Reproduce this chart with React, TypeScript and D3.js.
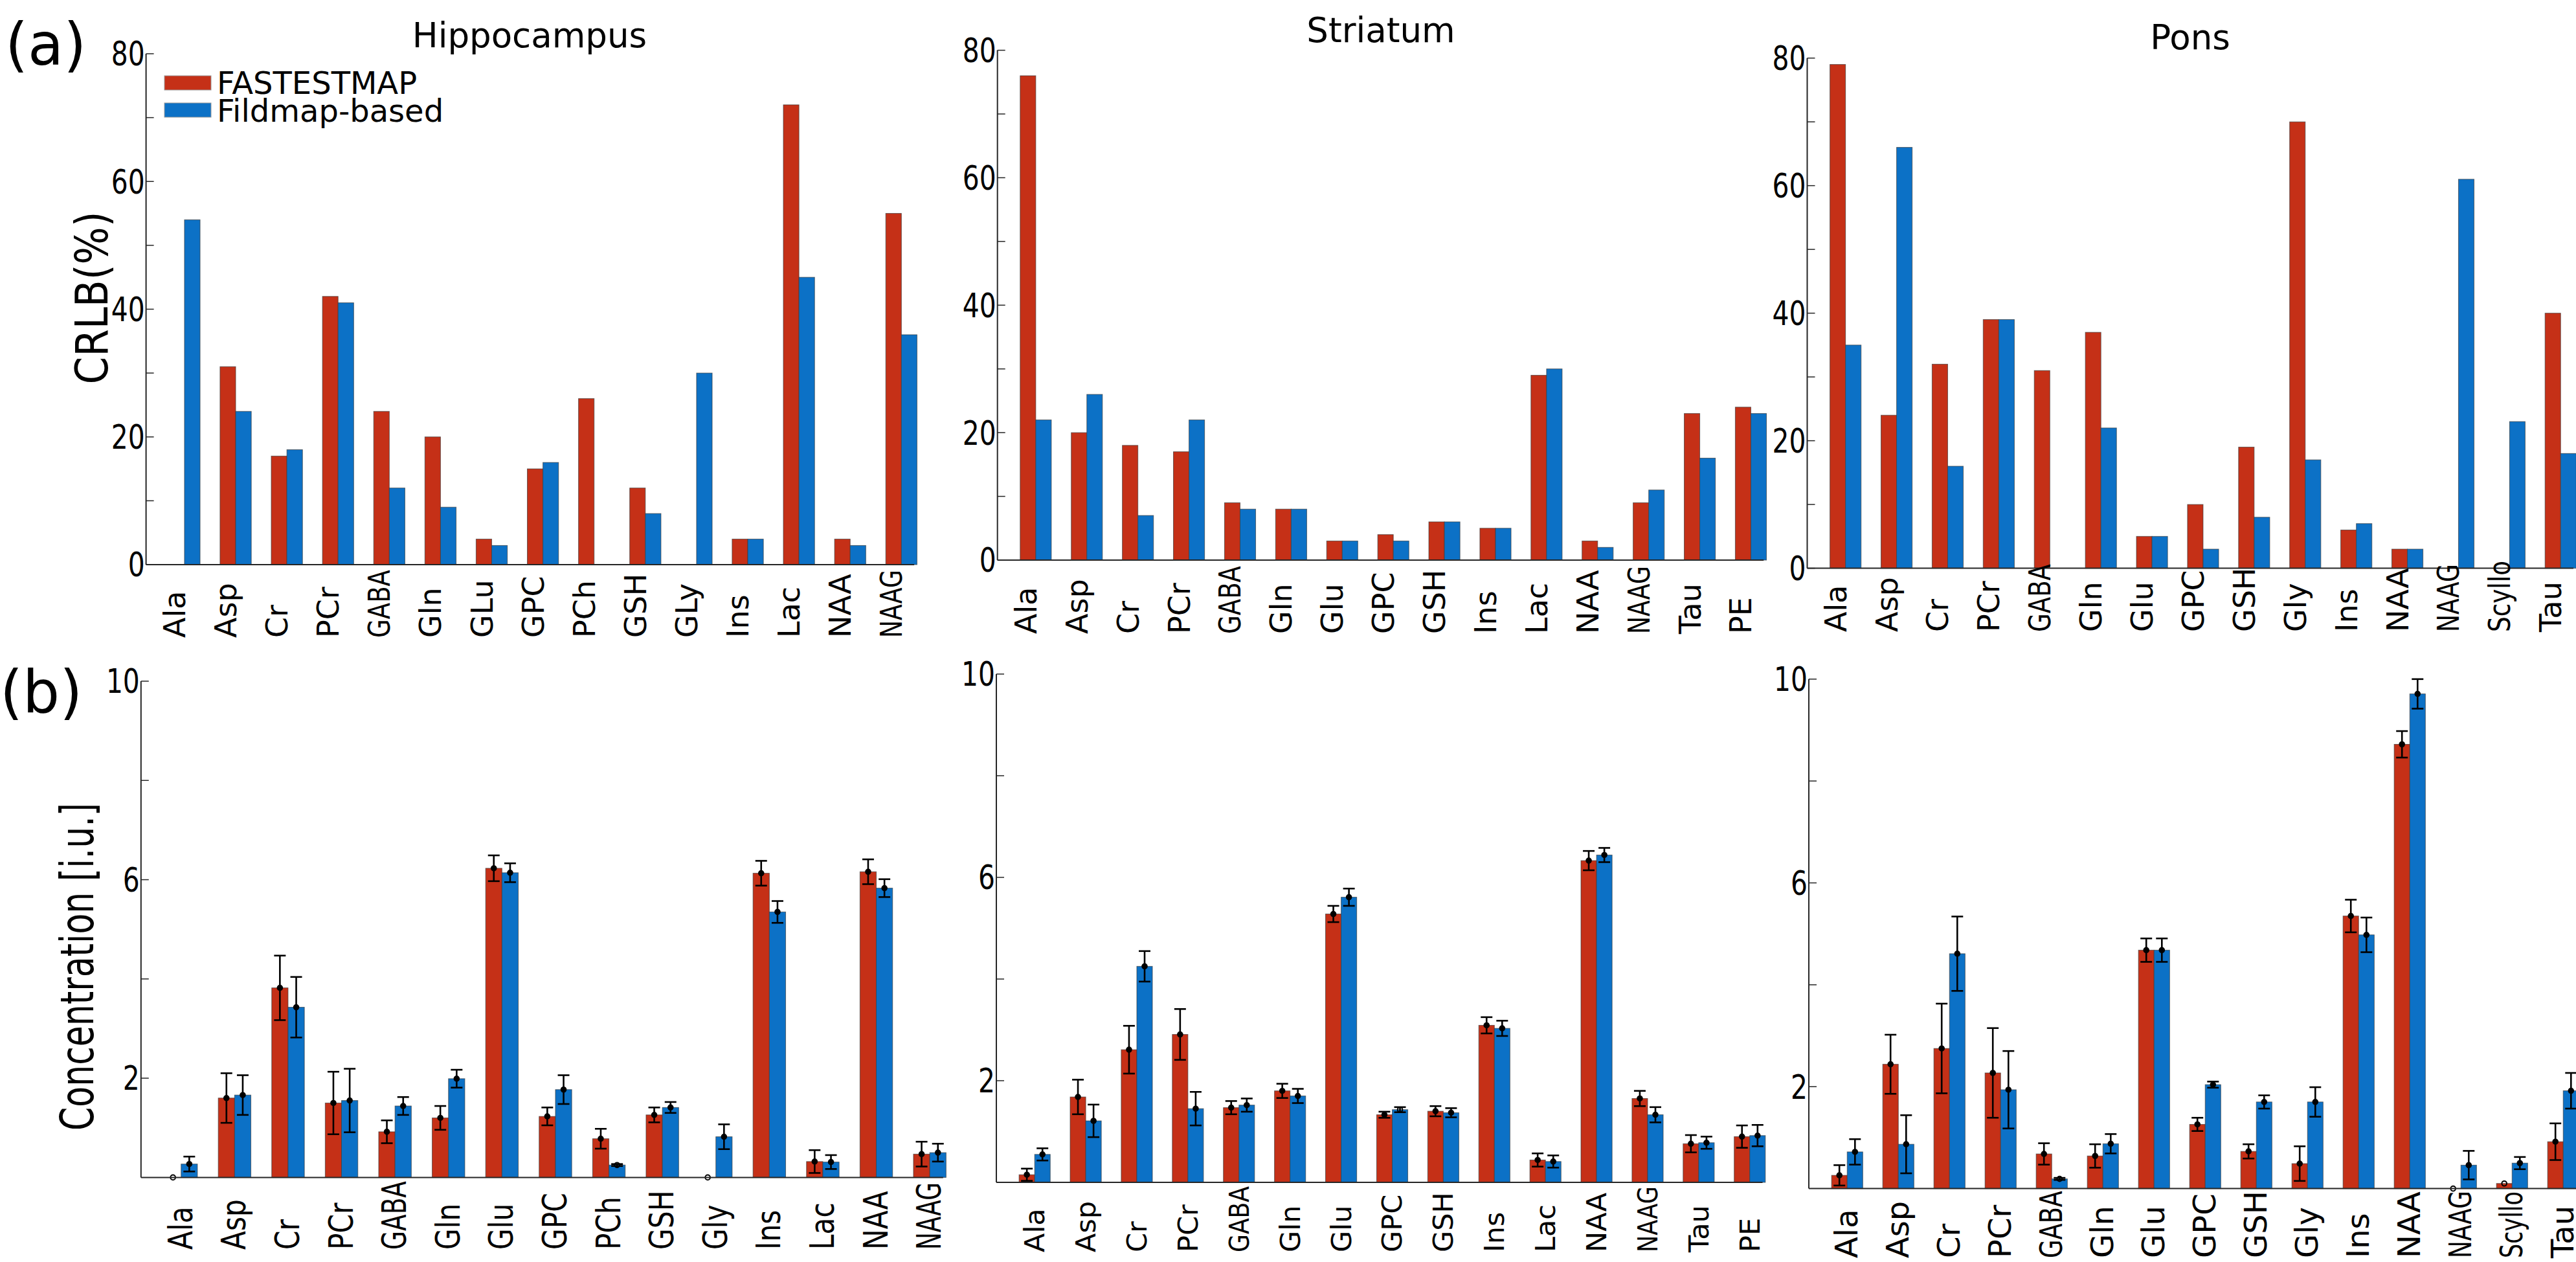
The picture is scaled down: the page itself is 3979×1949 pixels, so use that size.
import * as d3 from 'd3'

const RED = '#C53017'
const BLUE = '#0C71C6'
const FONT = 'DejaVu Sans, Liberation Sans, sans-serif'

// (a) CRLB (%) per region
const hippoTopNames = ['Ala', 'Asp', 'Cr', 'PCr', 'GABA', 'Gln', 'GLu', 'GPC', 'PCh', 'GSH', 'GLy', 'Ins', 'Lac', 'NAA', 'NAAG']
const hippoCrlbFast = [0, 31, 17, 42, 24, 20, 4, 15, 26, 12, 0, 4, 72, 4, 55]
const hippoCrlbField = [54, 24, 18, 41, 12, 9, 3, 16, 0, 8, 30, 4, 45, 3, 36]

const striatumNames = ['Ala', 'Asp', 'Cr', 'PCr', 'GABA', 'Gln', 'Glu', 'GPC', 'GSH', 'Ins', 'Lac', 'NAA', 'NAAG', 'Tau', 'PE']
const striatumCrlbFast = [76, 20, 18, 17, 9, 8, 3, 4, 6, 5, 29, 3, 9, 23, 24]
const striatumCrlbField = [22, 26, 7, 22, 8, 8, 3, 3, 6, 5, 30, 2, 11, 16, 23]

const ponsNames = ['Ala', 'Asp', 'Cr', 'PCr', 'GABA', 'Gln', 'Glu', 'GPC', 'GSH', 'Gly', 'Ins', 'NAA', 'NAAG', 'Scyllo', 'Tau']
const ponsCrlbFast = [79, 24, 32, 39, 31, 37, 5, 10, 19, 70, 6, 3, 0, 0, 40]
const ponsCrlbField = [35, 66, 16, 39, 0, 22, 5, 3, 8, 17, 7, 3, 61, 23, 18]

// (b) concentration [i.u.], mean and sd
const hippoBottomNames = ['Ala', 'Asp', 'Cr', 'PCr', 'GABA', 'Gln', 'Glu', 'GPC', 'PCh', 'GSH', 'Gly', 'Ins', 'Lac', 'NAA', 'NAAG']
const hippoConcFast = [0, 1.6, 3.82, 1.5, 0.92, 1.2, 6.23, 1.23, 0.78, 1.26, 0, 6.13, 0.32, 6.16, 0.47]
const hippoSdFast = [0, 0.5, 0.65, 0.63, 0.23, 0.24, 0.26, 0.18, 0.2, 0.15, 0, 0.25, 0.23, 0.25, 0.25]
const hippoConcField = [0.27, 1.66, 3.43, 1.55, 1.44, 1.99, 6.14, 1.77, 0.25, 1.41, 0.82, 5.35, 0.31, 5.83, 0.5]
const hippoSdField = [0.15, 0.4, 0.61, 0.64, 0.18, 0.18, 0.19, 0.29, 0.02, 0.11, 0.25, 0.22, 0.14, 0.18, 0.18]

const striatumConcFast = [0.15, 1.68, 2.61, 2.91, 1.47, 1.8, 5.28, 1.33, 1.4, 3.09, 0.44, 6.33, 1.65, 0.76, 0.9]
const striatumSdFast = [0.12, 0.34, 0.47, 0.5, 0.13, 0.14, 0.16, 0.06, 0.1, 0.16, 0.13, 0.19, 0.15, 0.17, 0.22]
const striatumConcField = [0.55, 1.21, 4.25, 1.45, 1.52, 1.7, 5.61, 1.43, 1.37, 3.03, 0.41, 6.44, 1.33, 0.78, 0.92]
const striatumSdField = [0.12, 0.32, 0.3, 0.33, 0.13, 0.14, 0.17, 0.05, 0.09, 0.15, 0.12, 0.14, 0.15, 0.12, 0.21]

const ponsConcFast = [0.26, 2.44, 2.75, 2.27, 0.68, 0.64, 4.68, 1.26, 0.73, 0.49, 5.35, 8.72, 0, 0.1, 0.92]
const ponsSdFast = [0.2, 0.58, 0.88, 0.88, 0.21, 0.23, 0.23, 0.13, 0.14, 0.34, 0.32, 0.26, 0, 0, 0.36]
const ponsConcField = [0.72, 0.87, 4.61, 1.94, 0.19, 0.88, 4.68, 2.04, 1.7, 1.7, 4.98, 9.71, 0.46, 0.5, 1.92]
const ponsSdField = [0.25, 0.57, 0.73, 0.76, 0.02, 0.19, 0.23, 0.06, 0.13, 0.29, 0.34, 0.29, 0.28, 0.12, 0.35]

const crlbTicks = [0, 10, 20, 30, 40, 50, 60, 70, 80]
const crlbLabels = [0, 20, 40, 60, 80]
const concTicks = [2, 4, 6, 8, 10]
const concLabels = [2, 6, 10]

const regionTitles = ['Hippocampus', 'Striatum', 'Pons']
const seriesNames = ['FASTESTMAP', 'Fildmap-based']

interface PanelProps {
  names: string[]
  red: number[]
  blue: number[]
  redSd?: number[]
  blueSd?: number[]
  x0: number
  step: number
  y0: number
  yTop: number
  yMax: number
  ticks: number[]
  tickLabels: number[]
  labelBase: number
  labelShift: number
  labelSize: number
  labelStretch?: number
  squeezed: Record<string, number>
}

function Panel(p: PanelProps) {
  const x = d3.scaleLinear().domain([0.25, 15.25]).range([p.x0, p.x0 + 15 * p.step])
  const y = d3.scaleLinear().domain([0, p.yMax]).range([p.y0, p.yTop])
  const bw = 0.305 * p.step
  const stretch = p.labelStretch || 1

  const bars = p.names.flatMap((name, i) => {
    const c = x(i + 1)
    return [
      { key: name + 'r', x: c - bw, v: p.red[i], sd: p.redSd?.[i], fill: RED },
      { key: name + 'b', x: c, v: p.blue[i], sd: p.blueSd?.[i], fill: BLUE },
    ]
  })

  return (
    <g>
      {bars.map(b =>
        b.v > 0 ? (
          <rect key={b.key} x={b.x} y={y(b.v)} width={bw} height={y(0) - y(b.v)}
            fill={b.fill} stroke="#3a3a3a" strokeOpacity={0.7} strokeWidth={1} />
        ) : null
      )}
      {p.redSd && bars.map(b => {
        const cx = b.x + bw / 2
        const sd = b.sd || 0
        return (
          <g key={b.key + 'e'} stroke="#000" strokeWidth={2.6} fill="none">
            {sd > 0 && (
              <>
                <line x1={cx} x2={cx} y1={y(b.v - sd)} y2={y(b.v + sd)} />
                <line x1={cx - 9} x2={cx + 9} y1={y(b.v + sd)} y2={y(b.v + sd)} />
                <line x1={cx - 9} x2={cx + 9} y1={y(b.v - sd)} y2={y(b.v - sd)} />
              </>
            )}
            <circle cx={cx} cy={y(b.v)} r={3.8} strokeWidth={2} fill={sd > 0.05 ? '#000' : 'none'} />
          </g>
        )
      })}
      {/* axes */}
      <line x1={p.x0} x2={p.x0 + 15 * p.step} y1={p.y0} y2={p.y0} stroke="#262626" strokeWidth={2} />
      <line x1={p.x0} x2={p.x0} y1={p.y0} y2={p.yTop} stroke="#262626" strokeWidth={2} />
      {p.ticks.map(t => (
        <line key={'t' + t} x1={p.x0} x2={p.x0 + 12} y1={y(t)} y2={y(t)} stroke="#262626" strokeWidth={1.5} />
      ))}
      {p.tickLabels.map(t => (
        <text key={'l' + t} transform={`translate(${p.x0 - 2},${y(t)}) scale(0.8,1)`}
          textAnchor="end" dy="0.36em" fontSize={51} fontFamily={FONT} fill="#000">{t}</text>
      ))}
      {p.names.map((name, i) => {
        const len = p.squeezed[name]
        return (
          <text key={'x' + name}
            transform={`translate(${x(i + 1) + p.labelShift},${p.labelBase}) rotate(-90) scale(${stretch},1)`}
            textAnchor="start" fontSize={p.labelSize} fontFamily={FONT} fill="#000"
            textLength={len ? len / stretch : undefined}
            lengthAdjust={len ? 'spacingAndGlyphs' : undefined}>{name}</text>
        )
      })}
    </g>
  )
}

const topLayout = [
  { x0: 225.6, step: 79.1, y0: 872, yTop: 83, labelBase: 985, titleX: 818, titleY: 73 },
  { x0: 1540.7, step: 78.9, y0: 865, yTop: 77.6, labelBase: 979, titleX: 2133, titleY: 65 },
  { x0: 2791.5, step: 78.9, y0: 877.6, yTop: 89.7, labelBase: 976, titleX: 3383, titleY: 76 },
]
const bottomLayout = [
  { x0: 217.8, step: 82.6, y0: 1818.4, yTop: 1052, labelBase: 1930, labelSize: 51, labelStretch: 0.83, labelShift: 17 },
  { x0: 1539, step: 78.9, y0: 1826, yTop: 1041, labelBase: 1934, labelSize: 43, labelStretch: 1, labelShift: 15 },
  { x0: 2794, step: 79, y0: 1835.6, yTop: 1048.8, labelBase: 1943, labelSize: 48, labelStretch: 1, labelShift: 16 },
]

export default function App() {
  const topSets = [
    { names: hippoTopNames, red: hippoCrlbFast, blue: hippoCrlbField },
    { names: striatumNames, red: striatumCrlbFast, blue: striatumCrlbField },
    { names: ponsNames, red: ponsCrlbFast, blue: ponsCrlbField },
  ]
  const bottomSets = [
    { names: hippoBottomNames, red: hippoConcFast, redSd: hippoSdFast, blue: hippoConcField, blueSd: hippoSdField,
      squeezed: { GABA: 106, NAAG: 104 } },
    { names: striatumNames, red: striatumConcFast, redSd: striatumSdFast, blue: striatumConcField, blueSd: striatumSdField,
      squeezed: { GABA: 102, NAAG: 102 } },
    { names: ponsNames, red: ponsConcFast, redSd: ponsSdFast, blue: ponsConcField, blueSd: ponsSdField,
      squeezed: { GABA: 104, NAAG: 104, Scyllo: 103 } },
  ]
  const topSqueeze = { GABA: 105, NAAG: 105, Scyllo: 110 }

  return (
    <svg width={3979} height={1949} style={{ position: 'absolute', left: 0, top: 0, background: '#fff' }}
      fontFamily={FONT}>
      <rect width={3979} height={1949} fill="#fff" />
      {topSets.map((s, k) => (
        <Panel key={'a' + k} {...s} {...topLayout[k]} yMax={80} ticks={crlbTicks} tickLabels={crlbLabels}
          labelShift={1} labelSize={46} squeezed={topSqueeze} />
      ))}
      {bottomSets.map((s, k) => (
        <Panel key={'b' + k} {...s} {...bottomLayout[k]} yMax={10} ticks={concTicks} tickLabels={concLabels} />
      ))}
      {topLayout.map((l, k) => (
        <text key={'title' + k} x={l.titleX} y={l.titleY} textAnchor="middle" fontSize={53} fill="#000">{regionTitles[k]}</text>
      ))}
      <text x={8} y={100} fontSize={90} fill="#000">(a)</text>
      <text x={0} y={1100} fontSize={90} fill="#000">(b)</text>
      <text transform="translate(166,460) rotate(-90)" textAnchor="middle" fontSize={70}
        textLength={267} lengthAdjust="spacingAndGlyphs" fill="#000">CRLB(%)</text>
      <text transform="translate(144,1493) rotate(-90)" textAnchor="middle" fontSize={72}
        textLength={506} lengthAdjust="spacingAndGlyphs" fill="#000">Concentration [i.u.]</text>
      {/* legend */}
      <rect x={254} y={117} width={72} height={22} fill={RED} stroke="#999" strokeWidth={1} />
      <rect x={254} y={159} width={72} height={22} fill={BLUE} stroke="#999" strokeWidth={1} />
      <text x={335} y={145} fontSize={48} fill="#000">{seriesNames[0]}</text>
      <text x={335} y={188} fontSize={48} fill="#000">{seriesNames[1]}</text>
    </svg>
  )
}
